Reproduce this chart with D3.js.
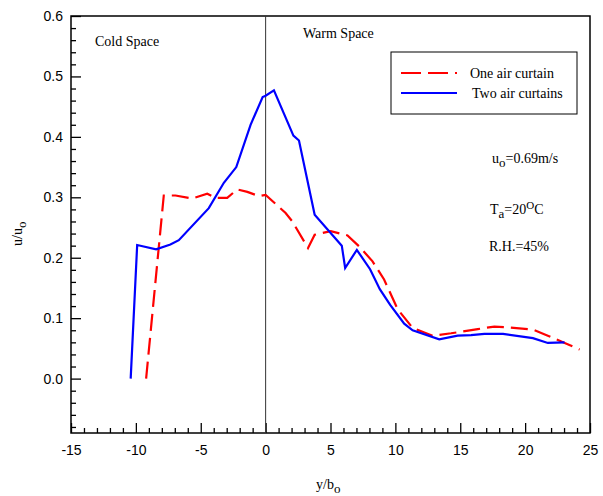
<!DOCTYPE html>
<html>
<head>
<meta charset="utf-8">
<script src="https://cdn.jsdelivr.net/npm/d3@7"></script>
<style>
  body { margin: 0; background: #fff; }
  svg text { fill: #000; }
  .tick text { font-family: "Liberation Sans", Arial, sans-serif; font-size: 14px; }
  .serif { font-family: "Liberation Serif", "Times New Roman", serif; font-size: 14px; }
</style>
</head>
<body>
<div id="chart"></div>
<script>
// One air curtain (red dashed)
const oneX = [-9.21, -7.85, -6.95, -5.66, -4.5, -3.86, -2.96, -2.19, -1.41, -0.52, 0, 1.54, 2.06, 3.27, 3.78, 5.02, 6.31, 7.2, 8.24, 9.13, 10.17, 11.33, 12.87, 14.3, 16.35, 17.63, 18.66, 20.6, 21.75, 23.05, 24.2];
const oneY = [0.0, 0.303, 0.303, 0.298, 0.306, 0.299, 0.299, 0.313, 0.309, 0.302, 0.304, 0.274, 0.26, 0.216, 0.238, 0.244, 0.237, 0.219, 0.194, 0.164, 0.115, 0.084, 0.071, 0.075, 0.082, 0.086, 0.085, 0.081, 0.071, 0.059, 0.048];

// Two air curtains (blue solid)
const twoX = [-10.4, -9.9, -8.44, -7.34, -6.69, -4.38, -3.22, -2.26, -1.16, -0.23, 0, 0.64, 2.14, 2.57, 3.78, 5.87, 6.13, 7.03, 8.05, 8.8, 9.6, 10.68, 11.33, 13.38, 14.8, 15.83, 16.86, 18.3, 20.6, 21.75, 23.04];
const twoY = [0.0, 0.221, 0.214, 0.222, 0.229, 0.282, 0.324, 0.35, 0.42, 0.466, 0.468, 0.477, 0.402, 0.394, 0.271, 0.22, 0.183, 0.213, 0.181, 0.148, 0.122, 0.091, 0.08, 0.065, 0.071, 0.072, 0.074, 0.074, 0.067, 0.059, 0.06];

const xMajor = [-15, -10, -5, 0, 5, 10, 15, 20, 25];
const yMajor = [0.0, 0.1, 0.2, 0.3, 0.4, 0.5, 0.6];

const W = 603, H = 496;
const margin = { top: 16, right: 13, bottom: 63, left: 71 };
const width = W - margin.left - margin.right;
const height = H - margin.top - margin.bottom;

const svg = d3.select("#chart").append("svg")
    .attr("width", W).attr("height", H);
const g = svg.append("g").attr("transform", `translate(${margin.left},${margin.top})`);

const x = d3.scaleLinear().domain([-15, 25]).range([0, width]);
const y = d3.scaleLinear().domain([-0.09, 0.6]).range([height, 0]);

// minor ticks
const xMinor = d3.range(-15, 25.001, 1).filter(v => !xMajor.includes(v));
const yMinor = d3.range(-0.08, 0.6, 0.02).filter(v => Math.abs(Math.round(v * 10) - v * 10) > 1e-6);

g.append("g").attr("transform", `translate(0,${height})`)
    .call(d3.axisBottom(x).tickValues(xMinor).tickSize(-5).tickFormat(""))
    .call(a => a.select(".domain").remove());
g.append("g")
    .call(d3.axisLeft(y).tickValues(yMinor).tickSize(-5).tickFormat(""))
    .call(a => a.select(".domain").remove());

g.append("g").attr("transform", `translate(0,${height})`)
    .call(d3.axisBottom(x).tickValues(xMajor).tickSize(-10).tickPadding(12).tickFormat(d => String(d)))
    .call(a => a.select(".domain").remove());
g.append("g")
    .call(d3.axisLeft(y).tickValues(yMajor).tickSize(-10).tickPadding(8).tickFormat(d => d.toFixed(1)))
    .call(a => a.select(".domain").remove());

g.selectAll(".tick line").attr("stroke", "#000").attr("stroke-width", 1.3);

// frame
g.append("rect").attr("width", width).attr("height", height)
    .attr("fill", "none").attr("stroke", "#000").attr("stroke-width", 1.5);

// divider at y/bo = 0
g.append("line").attr("x1", x(0)).attr("x2", x(0)).attr("y1", 0).attr("y2", height)
    .attr("stroke", "#333").attr("stroke-width", 1);

const line = d3.line().x(d => x(d[0])).y(d => y(d[1]));

g.append("path").datum(oneX.map((v, i) => [v, oneY[i]]))
    .attr("d", line).attr("fill", "none").attr("stroke", "#ff0000")
    .attr("stroke-width", 2.2).attr("stroke-dasharray", "17,7");
g.append("path").datum(twoX.map((v, i) => [v, twoY[i]]))
    .attr("d", line).attr("fill", "none").attr("stroke", "#0000ff")
    .attr("stroke-width", 2.2);

// region labels
svg.append("text").attr("class", "serif").attr("x", 95).attr("y", 46).text("Cold Space");
svg.append("text").attr("class", "serif").attr("x", 303).attr("y", 38).text("Warm Space");

// legend
const lg = svg.append("g").attr("transform", "translate(391,52)");
lg.append("rect").attr("width", 186).attr("height", 62)
    .attr("fill", "#fff").attr("stroke", "#000").attr("stroke-width", 1);
lg.append("line").attr("x1", 10).attr("x2", 66).attr("y1", 21).attr("y2", 21)
    .attr("stroke", "#ff0000").attr("stroke-width", 2.2).attr("stroke-dasharray", "20,7");
lg.append("line").attr("x1", 10).attr("x2", 66).attr("y1", 41).attr("y2", 41)
    .attr("stroke", "#0000ff").attr("stroke-width", 2.2);
lg.append("text").attr("class", "serif").attr("x", 79).attr("y", 26).text("One air curtain");
lg.append("text").attr("class", "serif").attr("x", 81).attr("y", 46).text("Two air curtains");

// conditions
const t1 = svg.append("text").attr("class", "serif").attr("x", 492).attr("y", 163);
t1.append("tspan").text("u");
t1.append("tspan").attr("dy", 4).style("font-size", "13px").text("o");
t1.append("tspan").attr("dy", -4).text("=0.69m/s");

const t2 = svg.append("text").attr("class", "serif").attr("x", 490).attr("y", 214);
t2.append("tspan").text("T");
t2.append("tspan").attr("dy", 4).style("font-size", "13px").text("a");
t2.append("tspan").attr("dy", -4).text("=20");
t2.append("tspan").attr("dy", -5).style("font-size", "11px").text("O");
t2.append("tspan").attr("dy", 5).text("C");

svg.append("text").attr("class", "serif").attr("x", 489).attr("y", 251).text("R.H.=45%");

// axis titles
const xt = svg.append("text").attr("class", "serif").attr("x", 316).attr("y", 489);
xt.append("tspan").text("y/b");
xt.append("tspan").attr("dy", 4).style("font-size", "13px").text("o");

const yt = svg.append("text").attr("class", "serif")
    .attr("transform", "translate(22,246) rotate(-90)");
yt.append("tspan").text("u/u");
yt.append("tspan").attr("dy", 4).style("font-size", "13px").text("o");
</script>
</body>
</html>
